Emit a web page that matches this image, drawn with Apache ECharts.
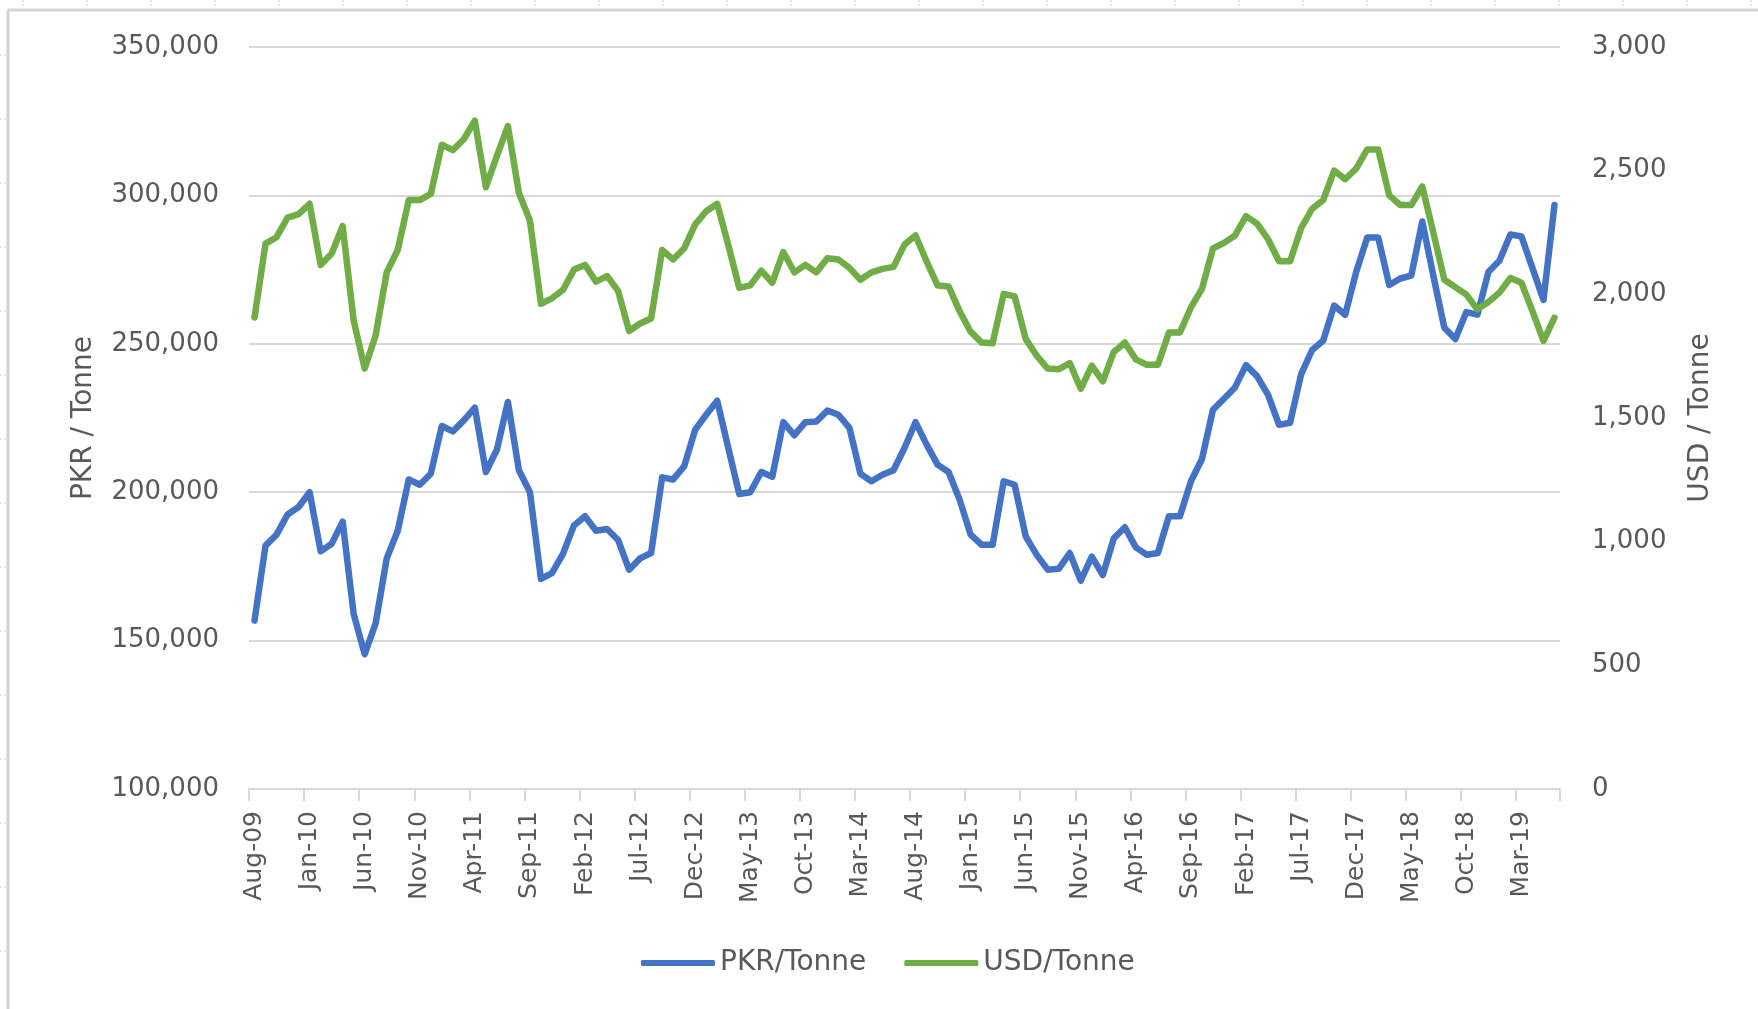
<!DOCTYPE html>
<html>
  <head>
    <title>PKR / USD per Tonne</title>
    <meta charset="utf-8" />
    <script src="https://cdn.jsdelivr.net/npm/echarts@6/dist/echarts.min.js"></script>
    <style>
      body { margin: 0; background: #ffffff; }
    </style>
  </head>
  <body>
    <div id="main" style="width: 1758px;height:1009px;"></div>
    <script type="text/javascript">
      // monthly categories, Aug-09 .. Jun-19
      var months = [
        'Aug-09','Sep-09','Oct-09','Nov-09','Dec-09',
        'Jan-10','Feb-10','Mar-10','Apr-10','May-10','Jun-10','Jul-10','Aug-10','Sep-10','Oct-10','Nov-10','Dec-10',
        'Jan-11','Feb-11','Mar-11','Apr-11','May-11','Jun-11','Jul-11','Aug-11','Sep-11','Oct-11','Nov-11','Dec-11',
        'Jan-12','Feb-12','Mar-12','Apr-12','May-12','Jun-12','Jul-12','Aug-12','Sep-12','Oct-12','Nov-12','Dec-12',
        'Jan-13','Feb-13','Mar-13','Apr-13','May-13','Jun-13','Jul-13','Aug-13','Sep-13','Oct-13','Nov-13','Dec-13',
        'Jan-14','Feb-14','Mar-14','Apr-14','May-14','Jun-14','Jul-14','Aug-14','Sep-14','Oct-14','Nov-14','Dec-14',
        'Jan-15','Feb-15','Mar-15','Apr-15','May-15','Jun-15','Jul-15','Aug-15','Sep-15','Oct-15','Nov-15','Dec-15',
        'Jan-16','Feb-16','Mar-16','Apr-16','May-16','Jun-16','Jul-16','Aug-16','Sep-16','Oct-16','Nov-16','Dec-16',
        'Jan-17','Feb-17','Mar-17','Apr-17','May-17','Jun-17','Jul-17','Aug-17','Sep-17','Oct-17','Nov-17','Dec-17',
        'Jan-18','Feb-18','Mar-18','Apr-18','May-18','Jun-18','Jul-18','Aug-18','Sep-18','Oct-18','Nov-18','Dec-18',
        'Jan-19','Feb-19','Mar-19','Apr-19','May-19','Jun-19'
      ];

      // PKR/Tonne (left axis)
      var pkrPerTonne = [
        156800, 182000, 185700, 192500, 195000, 200000, 180100, 182600, 190100, 159000,
        145400, 155900, 177700, 187000, 204300, 202500, 206200, 222300, 220500, 224200,
        228500, 206800, 214300, 230400, 207400, 200000, 170800, 172700, 179200, 188800,
        191900, 187000, 187600, 183900, 173900, 177700, 179500, 205000, 204300, 208700,
        221100, 226100, 230800, 215000, 199400, 200000, 206800, 205200, 223600, 219200,
        223600, 223800, 227500, 226100, 221700, 206200, 203700, 205900, 207400, 214900,
        223600, 216100, 209300, 206800, 197500, 185700, 182300, 182300, 203700, 202500,
        185100, 178900, 173900, 174200, 179500, 170200, 178300, 172100, 184500, 188200,
        181400, 178900, 179500, 191900, 191900, 203700, 211200, 227800, 231500, 235300,
        242800, 239100, 232800, 222700, 223400, 239700, 247900, 251000, 262900, 259800,
        274200, 285800, 285800, 269800, 272000, 273000, 291200, 273000, 255400, 251600,
        260700, 259800, 274200, 278000, 286800, 286200, 275500, 264800, 296800
      ];

      // USD/Tonne (right axis)
      var usdPerTonne = [
        1906, 2205, 2231, 2310, 2324, 2366, 2119, 2164, 2276, 1894,
        1700, 1835, 2089, 2179, 2381, 2381, 2406, 2605, 2583, 2627,
        2702, 2433, 2560, 2680, 2410, 2298, 1962, 1984, 2018, 2100,
        2119, 2051, 2074, 2014, 1852, 1882, 1902, 2179, 2141, 2186,
        2283, 2336, 2366, 2200, 2026, 2036, 2096, 2047, 2171, 2089,
        2119, 2089, 2146, 2141, 2107, 2059, 2089, 2103, 2111, 2201,
        2238, 2134, 2036, 2032, 1932, 1849, 1805, 1802, 2002, 1992,
        1820, 1752, 1700, 1697, 1722, 1618, 1712, 1648, 1767, 1805,
        1737, 1715, 1715, 1846, 1846, 1947, 2022, 2186, 2208, 2238,
        2316, 2286, 2223, 2134, 2134, 2268, 2346, 2381, 2500, 2466,
        2508, 2586, 2586, 2400, 2361, 2361, 2436, 2250, 2059, 2029,
        1999, 1939, 1969, 2007, 2066, 2047, 1932, 1812, 1906
      ];

      var fontName = '"DejaVu Sans", "Liberation Sans", sans-serif';
      var textGray = '#595959';

      function withCommas(v) {
        return v.toLocaleString('en-US');
      }

      // spreadsheet frame around the chart: top and left edge plus faint cell marks
      function sheetDecor() {
        var items = [];
        var cellStyle = { stroke: '#c9d2f2', lineWidth: 1, lineDash: [2, 2] };
        for (var x = 23; x < 1758; x += 64) {
          items.push({ type: 'line', silent: true, shape: { x1: x, y1: 0, x2: x, y2: 8 }, style: cellStyle });
        }
        for (var y = 55; y < 1009; y += 64) {
          items.push({ type: 'line', silent: true, shape: { x1: 0, y1: y, x2: 6, y2: y }, style: cellStyle });
        }
        items.push({ type: 'line', silent: true, shape: { x1: 8, y1: 10, x2: 1758, y2: 10 },
                     style: { stroke: '#d4d4d4', lineWidth: 3 } });
        items.push({ type: 'line', silent: true, shape: { x1: 8, y1: 10, x2: 8, y2: 1009 },
                     style: { stroke: '#d4d4d4', lineWidth: 3 } });
        return items;
      }

      var myChart = echarts.init(document.getElementById('main'));

      var option = {
        backgroundColor: '#ffffff',
        animation: false,
        textStyle: { fontFamily: fontName },
        graphic: sheetDecor(),
        grid: {
          left: 249,
          right: 198,
          top: 47,
          bottom: 220
        },
        legend: {
          left: 636,
          top: 944,
          icon: 'roundRect',
          itemWidth: 74,
          itemHeight: 6,
          itemGap: 38,
          textStyle: { color: textGray, fontSize: 28, fontFamily: fontName },
          data: ['PKR/Tonne', 'USD/Tonne']
        },
        xAxis: {
          type: 'category',
          data: months,
          boundaryGap: true,
          axisLine: { lineStyle: { color: '#d9d9d9', width: 2 } },
          axisTick: {
            show: true,
            interval: 4,
            length: 12,
            lineStyle: { color: '#d9d9d9', width: 2 }
          },
          axisLabel: {
            interval: 4,
            rotate: 90,
            margin: 22,
            color: textGray,
            fontSize: 25,
            fontFamily: fontName
          },
          splitLine: { show: false }
        },
        yAxis: [{
          type: 'value',
          position: 'left',
          min: 100000,
          max: 350000,
          interval: 50000,
          name: 'PKR / Tonne',
          nameLocation: 'middle',
          nameRotate: 90,
          nameGap: 151,
          nameTextStyle: { color: textGray, fontSize: 28, fontFamily: fontName },
          axisLine: { show: false },
          axisTick: { show: false },
          axisLabel: {
            margin: 30,
            color: textGray,
            fontSize: 26,
            fontFamily: fontName,
            formatter: withCommas
          },
          splitLine: { lineStyle: { color: '#d9d9d9', width: 2 } }
        }, {
          type: 'value',
          position: 'right',
          min: 0,
          max: 3000,
          interval: 500,
          name: 'USD / Tonne',
          nameLocation: 'middle',
          nameRotate: 90,
          nameGap: 127,
          nameTextStyle: { color: textGray, fontSize: 28, fontFamily: fontName },
          axisLine: { show: false },
          axisTick: { show: false },
          axisLabel: {
            margin: 32,
            color: textGray,
            fontSize: 26,
            fontFamily: fontName,
            formatter: withCommas
          },
          splitLine: { show: false }
        }],
        series: [{
          name: 'PKR/Tonne',
          type: 'line',
          yAxisIndex: 0,
          data: pkrPerTonne,
          symbol: 'none',
          color: '#4472c4',
          lineStyle: { color: '#4472c4', width: 6.5, join: 'round', cap: 'round' }
        }, {
          name: 'USD/Tonne',
          type: 'line',
          yAxisIndex: 1,
          data: usdPerTonne,
          symbol: 'none',
          color: '#70ad47',
          lineStyle: { color: '#70ad47', width: 6.5, join: 'round', cap: 'round' }
        }]
      };

      myChart.setOption(option);
    </script>
  </body>
</html>
